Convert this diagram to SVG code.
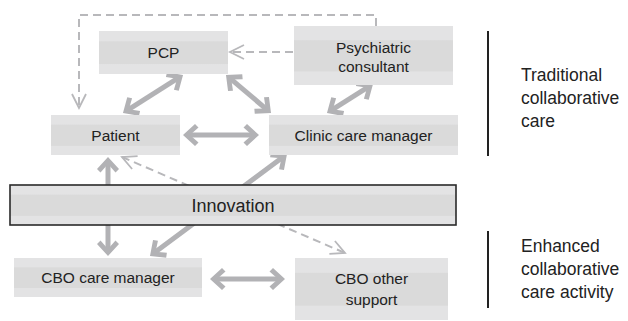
<svg xmlns="http://www.w3.org/2000/svg" width="628" height="321" viewBox="0 0 628 321">
<style>
.box{fill:url(#bg);}
.inno{fill:url(#bg);stroke:#2a2a2a;stroke-width:1.6;}
.lbl{font-family:"Liberation Sans",Arial,sans-serif;font-size:15.5px;fill:#222;text-anchor:middle;}
.big{font-family:"Liberation Sans",Arial,sans-serif;font-size:18px;fill:#222;text-anchor:middle;}
.side{font-family:"Liberation Sans",Arial,sans-serif;font-size:17.5px;fill:#222;}
.thick{stroke:#b2b2b5;stroke-width:5;fill:none;marker-start:url(#th);marker-end:url(#th);}
.dash{stroke:#b8b8bb;stroke-width:2;fill:none;stroke-dasharray:8 5;}
.div{stroke:#222;stroke-width:2;}
</style>
<defs>
<linearGradient id="bg" x1="0" y1="0" x2="0" y2="1">
<stop offset="0" stop-color="#e3e3e4"/>
<stop offset="0.23" stop-color="#e3e3e4"/>
<stop offset="0.25" stop-color="#dadada"/>
<stop offset="0.76" stop-color="#dadada"/>
<stop offset="0.78" stop-color="#e3e3e4"/>
<stop offset="1" stop-color="#e3e3e4"/>
</linearGradient>
<marker id="th" viewBox="0 0 24 24" refX="15" refY="12" markerWidth="24" markerHeight="24" markerUnits="userSpaceOnUse" orient="auto-start-reverse">
<path d="M20,12 L8,1 L4.5,4.5 L13,12 L4.5,19.5 L8,23 Z" fill="#b2b2b5"/>
</marker>
<marker id="dv" viewBox="0 0 18 18" refX="15" refY="9" markerWidth="18" markerHeight="18" markerUnits="userSpaceOnUse" orient="auto-start-reverse">
<path d="M1,2 L15,9 L1,16" fill="none" stroke="#b8b8bb" stroke-width="1.8"/>
</marker>
</defs>

<g id="connectors">
<path class="dash" d="M376,26 V15 H79 V108" marker-end="url(#dv)"/>
<line class="dash" x1="293" y1="52" x2="230" y2="52" marker-end="url(#dv)"/>
<line class="dash" x1="122" y1="157" x2="345" y2="253" marker-start="url(#dv)" marker-end="url(#dv)"/>
<line class="thick" x1="127.2" y1="110.3" x2="178.8" y2="77.7"/>
<line class="thick" x1="229.8" y1="78.2" x2="267.2" y2="109.8"/>
<line class="thick" x1="188" y1="135" x2="254" y2="135"/>
<line class="thick" x1="331.2" y1="110.3" x2="368.8" y2="86.7"/>
<line class="thick" x1="108" y1="162" x2="108" y2="251"/>
<line class="thick" x1="283" y1="157" x2="154" y2="253"/>
<line class="thick" x1="215" y1="279" x2="280" y2="279"/>
</g>

<g id="pcp"><rect class="box" x="99" y="31" width="129" height="43"/><text class="lbl" x="163.5" y="58">PCP</text></g>
<g id="psychiatric-consultant"><rect class="box" x="294" y="26" width="159" height="59"/><text class="lbl" x="373.5" y="53">Psychiatric</text><text class="lbl" x="373.5" y="72">consultant</text></g>
<g id="patient"><rect class="box" x="51" y="115" width="129" height="40"/><text class="lbl" x="115.5" y="141">Patient</text></g>
<g id="clinic-care-manager"><rect class="box" x="269" y="115" width="189" height="40"/><text class="lbl" x="363.5" y="141">Clinic care manager</text></g>
<g id="innovation"><rect class="inno" x="10" y="185" width="446" height="40"/><text class="big" x="233" y="212">Innovation</text></g>
<g id="cbo-care-manager"><rect class="box" x="14" y="258" width="188" height="39"/><text class="lbl" x="108" y="283">CBO care manager</text></g>
<g id="cbo-other-support"><rect class="box" x="295" y="258" width="153" height="62"/><text class="lbl" x="371.5" y="284">CBO other</text><text class="lbl" x="371.5" y="305">support</text></g>

<g id="legend">
<line class="div" x1="488" y1="31" x2="488" y2="156"/>
<line class="div" x1="488" y1="231" x2="488" y2="308"/>
<text class="side" x="521" y="81">Traditional</text>
<text class="side" x="521" y="104">collaborative</text>
<text class="side" x="521" y="127">care</text>
<text class="side" x="521" y="252">Enhanced</text>
<text class="side" x="521" y="275">collaborative</text>
<text class="side" x="521" y="298">care activity</text>
</g>
</svg>
